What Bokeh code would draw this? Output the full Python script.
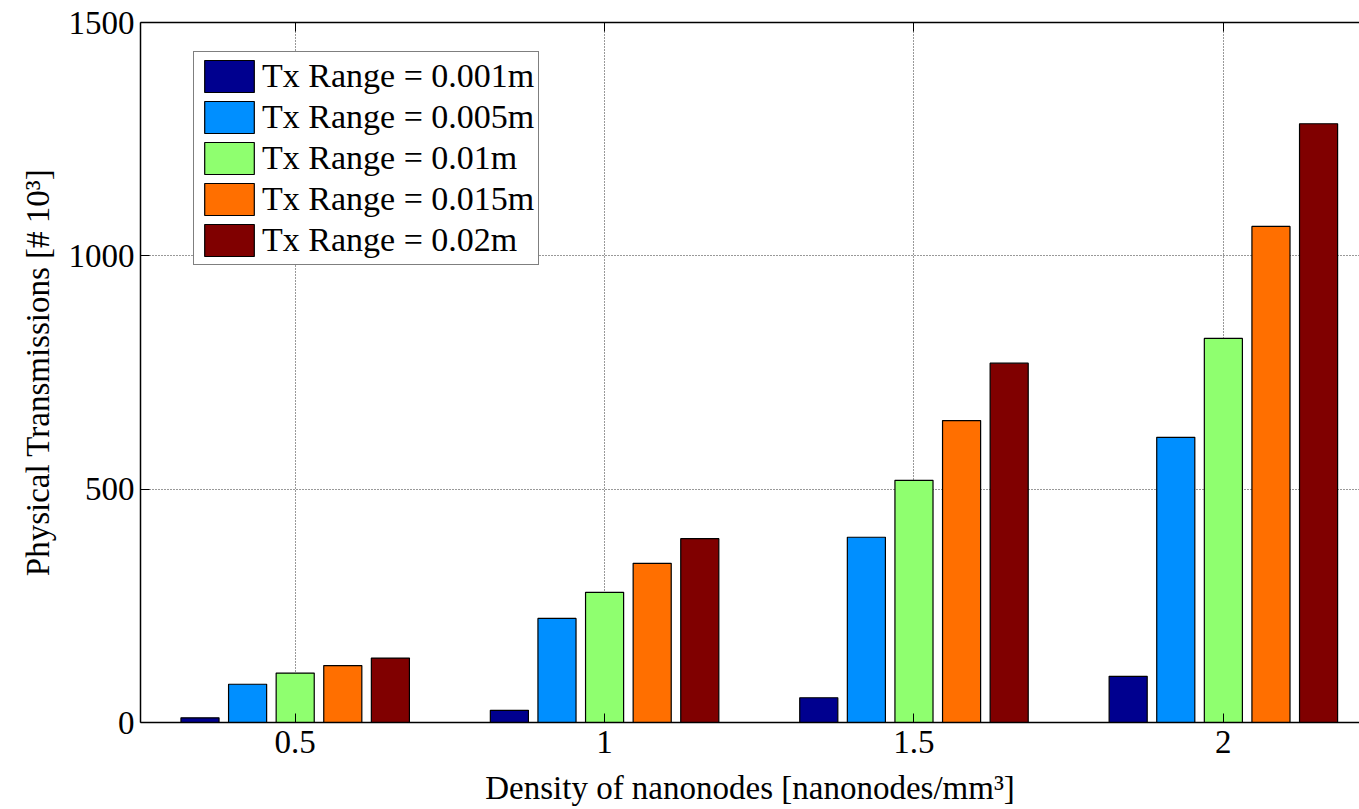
from bokeh.plotting import figure
from bokeh.models import ColumnDataSource, LinearAxis, FixedTicker, Range1d, Legend, LegendItem
from bokeh.transform import dodge
from bokeh.embed import file_html
from bokeh.resources import INLINE

density = [0.5, 1.0, 1.5, 2.0]
tx_labels = ["Tx Range = 0.001m", "Tx Range = 0.005m", "Tx Range = 0.01m",
             "Tx Range = 0.015m", "Tx Range = 0.02m"]
r_0001 = [10, 26, 53, 99]
r_0005 = [82, 223, 397, 611]
r_001 = [106, 279, 519, 823]
r_0015 = [122, 341, 647, 1063]
r_002 = [138, 394, 770, 1283]
series = [r_0001, r_0005, r_001, r_0015, r_002]
colors = ["#00008F", "#008FFF", "#8FFF6F", "#FF6F00", "#800000"]
y_ticks = [0, 500, 1000, 1500]
x_ticks = [0.5, 1, 1.5, 2]

FONT = "Liberation Serif"
FS = "33px"

data = {"density": density}
for i, s in enumerate(series):
    data[f"s{i}"] = s
src = ColumnDataSource(data)

p = figure(width=1359, height=809, output_backend="svg", toolbar_location=None,
           x_range=Range1d(0.25, 2.22), y_range=Range1d(0, 1500),
           min_border_left=140, min_border_right=0, min_border_top=22,
           min_border_bottom=87)
p.outline_line_color = None
p.background_fill_color = "white"
p.border_fill_color = "white"

n = len(series)
group_w = min(0.8, n / (n + 1.5))
step = 0.5 * group_w / n
bar_w = step * 0.8
items = []
for i, s in enumerate(series):
    off = (i - (n - 1) / 2) * step
    r = p.vbar(x=dodge("density", off, range=p.x_range), top=f"s{i}", width=bar_w,
               bottom=0, source=src, fill_color=colors[i], line_color="black",
               line_width=1.2)
    items.append(LegendItem(label=tx_labels[i], renderers=[r]))

for ax in [p.xaxis[0], p.yaxis[0]]:
    ax.major_label_text_font = FONT
    ax.major_label_text_font_size = FS
    ax.major_label_text_color = "black"
    ax.axis_label_text_font = FONT
    ax.axis_label_text_font_size = FS
    ax.axis_label_text_font_style = "normal"
    ax.axis_label_text_color = "black"
    ax.major_tick_in = 9
    ax.major_tick_out = 0
    ax.minor_tick_line_color = None
    ax.axis_line_color = "black"
    ax.axis_line_width = 1.5
    ax.major_tick_line_color = "black"

p.xaxis[0].ticker = FixedTicker(ticks=x_ticks)
p.yaxis[0].ticker = FixedTicker(ticks=y_ticks)
p.xaxis[0].major_label_overrides = {0.5: "0.5", 1: "1", 1.5: "1.5", 2: "2"}
p.xaxis[0].axis_label = "Density of nanonodes [nanonodes/mm\u00b3]"
p.yaxis[0].axis_label = "Physical Transmissions [# 10\u00b3]"
p.xaxis[0].major_label_standoff = 8
p.yaxis[0].major_label_standoff = 6
p.xaxis[0].axis_label_standoff = 14
p.yaxis[0].axis_label_standoff = 10

top = LinearAxis(ticker=FixedTicker(ticks=x_ticks))
top.major_label_text_font_size = "1px"
top.major_label_text_alpha = 0
top.major_label_standoff = 0
top.major_tick_in = 9
top.major_tick_out = 0
top.minor_tick_line_color = None
top.axis_line_color = "black"
top.axis_line_width = 1.5
p.add_layout(top, "above")

p.xgrid.ticker = FixedTicker(ticks=x_ticks)
p.ygrid.ticker = FixedTicker(ticks=y_ticks)
for g in [p.xgrid[0], p.ygrid[0]]:
    g.grid_line_color = "black"
    g.grid_line_dash = "1 2"
    g.grid_line_width = 1
    g.grid_line_alpha = 0.8

legend = Legend(items=items, location=(53, 457))
legend.label_text_font = FONT
legend.label_text_font_size = "34px"
legend.label_text_color = "black"
legend.glyph_width = 62
legend.glyph_height = 40
legend.label_height = 40
legend.spacing = 1
legend.padding = 4
legend.margin = 0
legend.label_standoff = 2
legend.border_line_color = "black"
legend.border_line_width = 1.5
legend.background_fill_color = "white"
legend.background_fill_alpha = 1
p.add_layout(legend, "center")

open("out.html", "w").write(file_html(p, INLINE))
